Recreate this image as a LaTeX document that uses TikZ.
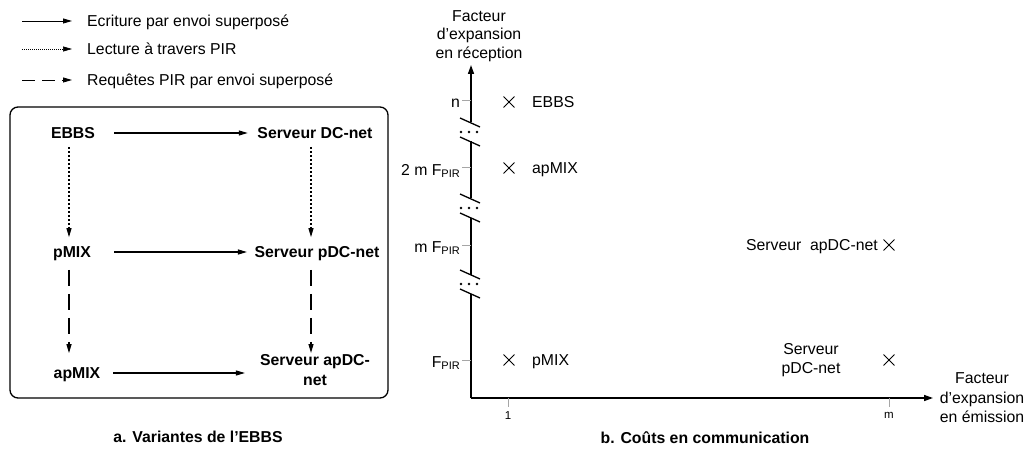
\documentclass[tikz,border=0pt]{standalone}
\usepackage{fontspec}
\setmainfont{Liberation Sans}
\usetikzlibrary{arrows.meta,shapes.misc}
\newcommand{\pirsub}{\raisebox{-0.25ex}{\fontsize{11}{11}\selectfont PIR}}
\begin{document}
\begin{tikzpicture}[x=1pt,y=-1pt,
  every node/.style={font=\fontsize{15.8}{19}\selectfont, inner sep=0pt},
  lbl/.style={text height=11.3pt, text depth=0pt},
  bl/.style={lbl, font=\fontsize{15.8}{19}\selectfont\bfseries},
  tip/.style={-{Triangle[length=9pt,width=5pt]}},
  axtip/.style={-{Triangle[length=9pt,width=6pt]}},
  legline/.style={tip, line width=0.8pt},
  solidarrow/.style={tip, line width=1.1pt},
  dotarrow/.style={tip, line width=1.1pt, dash pattern=on 2pt off 2pt},
  dasharrow/.style={tip, line width=1.2pt, dash pattern=on 16pt off 8pt},
  axisline/.style={line width=1.5pt},
  tickline/.style={gray!70, line width=0.8pt},
  xmark/.style={cross out, draw, minimum size=10pt, line width=0.9pt},
  breakline/.style={line width=1.3pt},
  ticklbl/.style={font=\fontsize{11.5}{13}\selectfont}
]
\useasboundingbox (0,0) rectangle (1030,449);

% ---------- legend ----------
\coordinate (l1a) at (22,21);  \coordinate (l1b) at (72,21);
\coordinate (l2a) at (22,49);  \coordinate (l2b) at (72,49);
\coordinate (l3a) at (22,80);  \coordinate (l3b) at (72,80);
\draw[legline] (l1a) -- (l1b);
\draw[legline, line width=0.6pt, dash pattern=on 1pt off 1pt] (l2a) -- (l2b);
\draw[legline, dash pattern=on 13pt off 7pt] (l3a) -- (l3b);
\node[lbl, anchor=west] (leg1) at (87,21) {Ecriture par envoi superposé};
\node[lbl, anchor=west] (leg2) at (87,49) {Lecture à travers PIR};
\node[lbl, anchor=west] (leg3) at (87,80) {Requêtes PIR par envoi superposé};

% ---------- part a ----------
\draw[line width=1.3pt, rounded corners=8pt] (10,107) rectangle (388,398);
\coordinate (c69) at (69,0);
\coordinate (c311) at (311,0);
\node[bl] (ebbs) at (73,133) {EBBS};
\node[bl] (sdc) at (315,133) {Serveur DC-net};
\node[bl] (pmix) at (72,252) {pMIX};
\node[bl] (spdc) at (317,252) {Serveur pDC-net};
\node[bl] (apmix) at (77,373) {apMIX};
\node[font=\fontsize{15.8}{20}\selectfont\bfseries, align=center, anchor=north] (sapdc) at (315,354) {Serveur apDC-\\net};

\draw[solidarrow, shorten <=19pt, shorten >=9.5pt] (ebbs) -- (sdc);
\draw[solidarrow, shorten <=23pt, shorten >=7.5pt] (pmix) -- (spdc);
\draw[solidarrow, shorten <=13pt, shorten >=15pt] (apmix.east) -- (apmix.east -| sapdc.west);
\draw[dotarrow, shorten <=8pt, shorten >=9pt] (ebbs.south -| c69) -- (pmix.north -| c69);
\draw[dotarrow, shorten <=8pt, shorten >=9pt] (sdc.south -| c311) -- (spdc.north -| c311);
\draw[dasharrow, shorten <=12pt, shorten >=14pt] (pmix.south -| c69) -- (apmix.north -| c69);
\draw[dasharrow, shorten <=12pt, shorten >=1pt] (spdc.south -| c311) -- (sapdc.north -| c311);

\node[bl] (capa) at (198,437) {a. Variantes de l’EBBS};

% ---------- part b ----------
\coordinate (O) at (471,398);
\coordinate (ytop) at (471,65);
\coordinate (xend) at (933,398);
\draw[axisline] (O) -- (471,293.5);
\draw[axisline] (471,274.5) -- (471,217.5);
\draw[axisline] (471,198.5) -- (471,141.5);
\draw[axisline, axtip] (471,122.5) -- (ytop);
\draw[axisline, axtip] (O) -- (xend);

\foreach \c in {132,208,284} {
  \draw[breakline] (460,\c-14) -- (480,\c-5);
  \draw[breakline] (460,\c+5) -- (480,\c+14);
  \fill (461,\c) circle (1.3pt) (469,\c) circle (1.3pt) (477,\c) circle (1.3pt);
}

% y ticks and labels
\draw[tickline] (462,100) -- (471,100);
\draw[tickline] (462,167) -- (471,167);
\draw[tickline] (462,245) -- (471,245);
\draw[tickline] (462,360) -- (471,360);
\node[lbl, anchor=east] (tn) at (460,102) {n};
\node[lbl, anchor=east] (t2m) at (460,170) {2 m F\pirsub};
\node[lbl, anchor=east] (tm) at (460,247) {m F\pirsub};
\node[lbl, anchor=east] (tf) at (460,362) {F\pirsub};

% x ticks and labels
\draw[tickline] (508,398) -- (508,407);
\draw[tickline] (889,398) -- (889,407);
\node[ticklbl] (x1) at (508,416) {1};
\node[ticklbl] (xm) at (889,415) {m};

% axis labels
\node[align=center, font=\fontsize{15.8}{18.5}\selectfont] (ylab) at (479,36) {Facteur\\d’expansion\\en réception};
\node[align=center, font=\fontsize{15.8}{19.5}\selectfont] (xlab) at (982,398) {Facteur\\d’expansion\\en émission};

% points
\node[xmark] (mebbs) at (509,102) {};
\node[xmark] (mapmix) at (509,168) {};
\node[xmark] (mpmix) at (509,360) {};
\node[xmark] (mapdc) at (889,245) {};
\node[xmark] (mpdc) at (889,360) {};
\node[lbl, anchor=west] (lebbs) at (532,102) {EBBS};
\node[lbl, anchor=west] (lapmix) at (532,168) {apMIX};
\node[lbl, anchor=west] (lpmix) at (532,360) {pMIX};
\node[lbl, anchor=east] (lapdc) at (878,245) {Serveur~~apDC-net};
\node[align=center, font=\fontsize{15.8}{19}\selectfont] (lpdc) at (811,360) {Serveur\\pDC-net};

\node[bl] (capb) at (705,438) {b. Coûts en communication};
\end{tikzpicture}
\end{document}
